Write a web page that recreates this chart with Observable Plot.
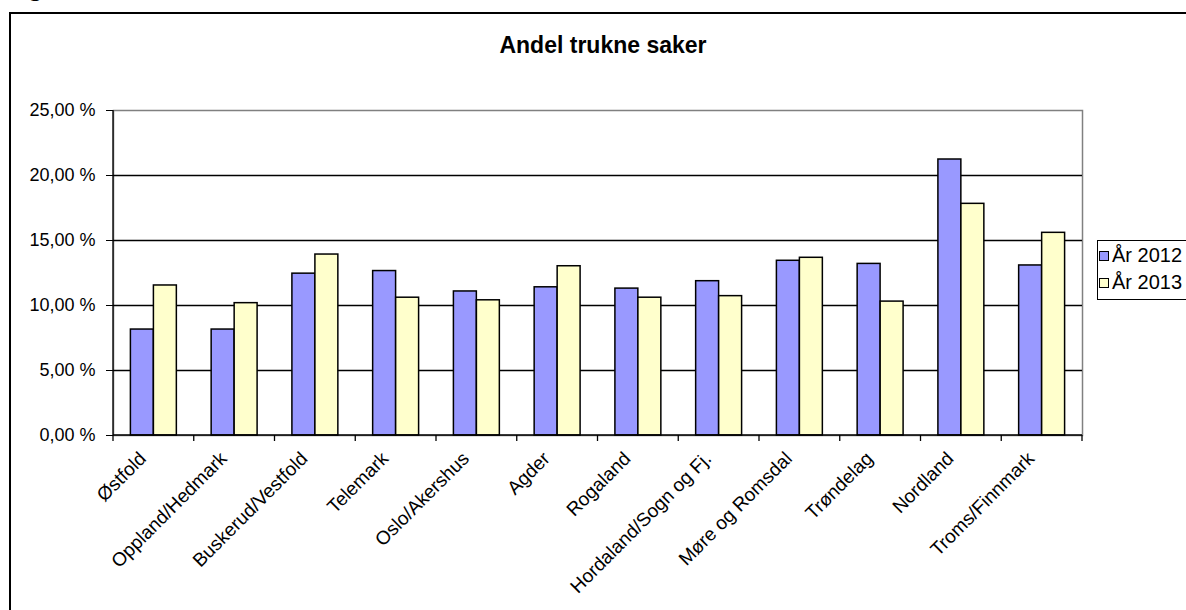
<!DOCTYPE html>
<html><head><meta charset="utf-8">
<script src="https://cdn.jsdelivr.net/npm/d3@7"></script>
<script src="https://cdn.jsdelivr.net/npm/@observablehq/plot@0.6"></script>
<style>
html,body{margin:0;padding:0;background:#fff;}
body{width:1186px;height:610px;overflow:hidden;position:relative;font-family:"Liberation Sans",Arial,sans-serif;color:#000;}
#fig{position:absolute;left:7px;top:-27px;font-family:"Liberation Serif","Times New Roman",serif;font-size:26px;line-height:30px;}
#frame{position:absolute;left:9px;top:12px;width:1220px;height:640px;border:2px solid #000;box-sizing:border-box;pointer-events:none;}
#chart{position:absolute;left:0;top:0;}
#title{position:absolute;left:403px;width:400px;top:34px;text-align:center;font-weight:bold;font-size:23px;line-height:23px;}
#legend{position:absolute;left:1097px;top:240px;width:120px;height:60px;border:1.5px solid #000;box-sizing:border-box;background:#fff;}
.item{position:absolute;left:1px;font-size:20px;line-height:19px;white-space:nowrap;}
.sw{display:inline-block;width:8px;height:8px;border:1px solid #000;margin-right:3px;vertical-align:1px;}
</style></head>
<body>
<div id="fig">Figur</div>
<div id="chart"></div>
<div id="frame"></div>
<div id="title">Andel trukne saker</div>
<div id="legend"></div>
<script>
const regions = ["Østfold","Oppland/Hedmark","Buskerud/Vestfold","Telemark","Oslo/Akershus","Agder","Rogaland","Hordaland/Sogn og Fj.","Møre og Romsdal","Trøndelag","Nordland","Troms/Finnmark"];
const year2012 = [8.15, 8.15, 12.45, 12.65, 11.08, 11.4, 11.3, 11.87, 13.44, 13.2, 21.23, 13.08];
const year2013 = [11.54, 10.18, 13.92, 10.6, 10.4, 13.02, 10.6, 10.72, 13.67, 10.3, 17.82, 15.59];
const seriesNames = ["År 2012", "År 2013"];
const seriesColors = ["#9999ff", "#ffffcc"];
const yTicks = [0, 5, 10, 15, 20, 25];
const gridValues = [5, 10, 15, 20];

const d2012 = regions.map((r, i) => ({region: r, value: year2012[i]}));
const d2013 = regions.map((r, i) => ({region: r, value: year2013[i]}));

// left axis line + category boundary ticks, drawn from Plot's scales
function axisLines(index, scales, values, dimensions) {
  const x = scales.x, y = scales.y;
  const bw = x.bandwidth ? x.bandwidth() : (dimensions.width - dimensions.marginLeft - dimensions.marginRight) / regions.length;
  const g = d3.create("svg:g").attr("stroke", "#000").attr("stroke-width", 1.3);
  const x0 = x(regions[0]);
  g.append("line").attr("x1", x0).attr("x2", x0).attr("y1", y(25)).attr("y2", y(0));
  g.append("line").attr("x1", x0).attr("x2", x(regions[regions.length - 1]) + bw).attr("y1", y(0)).attr("y2", y(0));
  const bounds = regions.map(r => x(r)).concat([x(regions[regions.length - 1]) + bw]);
  for (const b of bounds) g.append("line").attr("x1", b).attr("x2", b).attr("y1", y(0)).attr("y2", y(0) + 6);
  return g.node();
}

const chart = Plot.plot({
  width: 1186,
  height: 610,
  marginLeft: 113,
  marginRight: 104,
  marginTop: 110,
  marginBottom: 175,
  style: {fontFamily: "Liberation Sans, Arial, sans-serif", fontSize: "17px", color: "#000", background: "transparent", overflow: "visible"},
  x: {type: "band", domain: regions, padding: 0, round: false},
  y: {domain: [0, 25]},
  marks: [
    Plot.frame({stroke: "#808080", strokeWidth: 1.5}),
    Plot.ruleY(gridValues, {stroke: "#000", strokeWidth: 1.3}),
    Plot.barY(d2012, {x: "region", y: "value", fill: seriesColors[0], stroke: "#000", strokeWidth: 1.5, insetLeft: 17.4, insetRight: 40.4}),
    Plot.barY(d2013, {x: "region", y: "value", fill: seriesColors[1], stroke: "#000", strokeWidth: 1.5, insetLeft: 40.4, insetRight: 17.4}),
    axisLines,
    Plot.axisY(yTicks, {tickSize: 7, tickPadding: 11, fontSize: 18, stroke: "#000", label: null, tickFormat: d => d.toFixed(2).replace(".", ",") + " %"}),
    Plot.axisX({tickRotate: -45, tickSize: 0, tickPadding: 20, fontSize: 19, dx: -11, label: null})
  ]
});
document.getElementById("chart").appendChild(chart);

const legend = document.getElementById("legend");
seriesNames.forEach((name, i) => {
  const div = document.createElement("div");
  div.className = "item";
  div.style.top = (5 + i * 27) + "px";
  const sw = document.createElement("span");
  sw.className = "sw";
  sw.style.background = seriesColors[i];
  div.appendChild(sw);
  div.appendChild(document.createTextNode(name));
  legend.appendChild(div);
});
</script>
</body></html>
